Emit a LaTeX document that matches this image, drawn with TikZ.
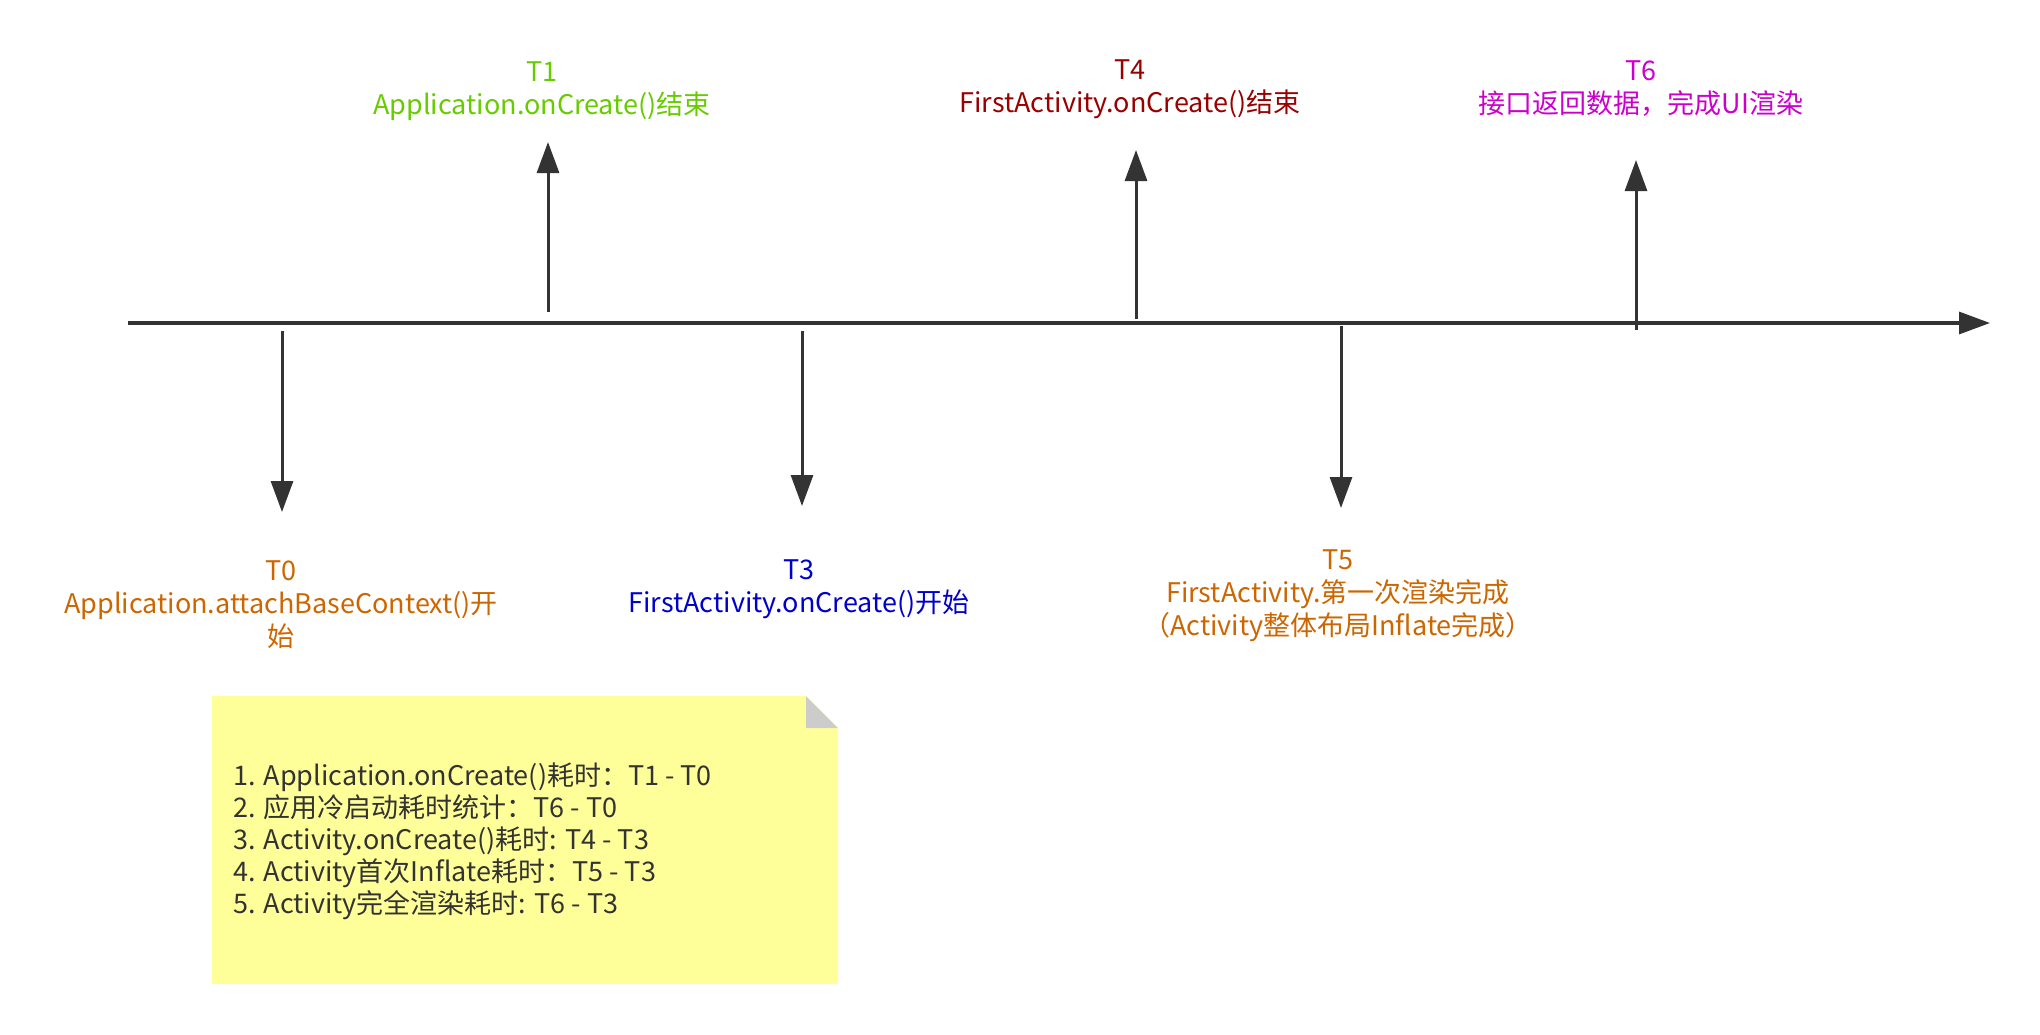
\documentclass[tikz,border=0pt]{standalone}
\usepackage{fontspec}
\setmainfont{Noto Sans CJK SC}
\usetikzlibrary{arrows.meta}
\definecolor{linegray}{HTML}{333333}
\definecolor{corange}{HTML}{CC6600}
\definecolor{cgreen}{HTML}{66CC00}
\definecolor{cblue}{HTML}{0000CC}
\definecolor{cred}{HTML}{990000}
\definecolor{cmagenta}{HTML}{CC00CC}
\definecolor{notefill}{HTML}{FFFF99}
\definecolor{foldgray}{HTML}{CCCCCC}
\begin{document}
\begin{tikzpicture}[x=1pt,y=-1pt,
  arr/.style={draw=linegray, line width=3pt, -{Triangle[length=31pt,width=22pt]}},
  axisline/.style={draw=linegray, line width=3.3pt, -{Triangle[length=31pt,width=22pt]}},
  lbl/.style={align=center, font=\fontsize{27}{33}\selectfont, inner sep=0pt},
  notetext/.style={align=left, font=\fontsize{27}{32}\selectfont, inner sep=0pt, text=linegray, anchor=west}]
\useasboundingbox (0,0) rectangle (2040,1034);
% axis
\coordinate (axs) at (128,323);
\coordinate (axe) at (1990,323);
\draw[axisline] (axs) -- (axe);
% arrow coordinates
\coordinate (a0s) at (282,331); \coordinate (a0e) at (282,512);
\coordinate (a1s) at (548,312); \coordinate (a1e) at (548,142);
\coordinate (a3s) at (802,331); \coordinate (a3e) at (802,506);
\coordinate (a4s) at (1136,319); \coordinate (a4e) at (1136,150);
\coordinate (a5s) at (1341,326); \coordinate (a5e) at (1341,508);
\coordinate (a6s) at (1636,330); \coordinate (a6e) at (1636,160);
\draw[arr] (a0s) -- (a0e);
\draw[arr] (a1s) -- (a1e);
\draw[arr] (a3s) -- (a3e);
\draw[arr] (a4s) -- (a4e);
\draw[arr] (a5s) -- (a5e);
\draw[arr] (a6s) -- (a6e);
% labels
\node[lbl, text=cgreen] (l1) at (542,91) {T1\\Application.onCreate()结束};
\node[lbl, text=cred] (l4) at (1130,89) {T4\\FirstActivity.onCreate()结束};
\node[lbl, text=cmagenta] (l6) at (1641,89) {T6\\接口返回数据，完成UI渲染};
\node[lbl, text=corange] (l0) at (281,605) {T0\\Application.attachBaseContext()开\\始};
\node[lbl, text=cblue] (l3) at (799,589) {T3\\FirstActivity.onCreate()开始};
\node[lbl, text=corange] (l5) at (1338,596) {T5\\FirstActivity.第一次渲染完成\\（Activity整体布局Inflate完成）};
% note
\fill[notefill] (212,696) -- (806,696) -- (838,728) -- (838,984) -- (212,984) -- cycle;
\fill[foldgray] (806,696) -- (806,728) -- (838,728) -- cycle;
\node[notetext] (note) at (233,841) {1. Application.onCreate()耗时：T1 - T0\\2. 应用冷启动耗时统计：T6 - T0\\3. Activity.onCreate()耗时: T4 - T3\\4. Activity首次Inflate耗时：T5 - T3\\5. Activity完全渲染耗时: T6 - T3};
\end{tikzpicture}
\end{document}
